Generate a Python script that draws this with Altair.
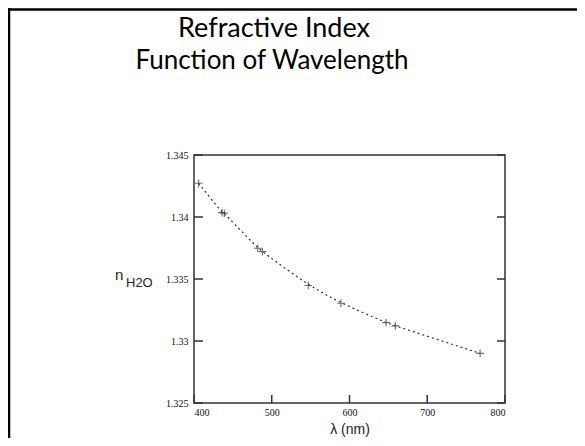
import altair as alt
import pandas as pd

# Data
wavelength = [406, 436, 439, 482, 488, 547, 589, 647, 659, 768]
n_h2o = [1.34272, 1.34035, 1.3403, 1.33748, 1.33721, 1.33448, 1.33305, 1.33148, 1.33122, 1.3290]
x_ticks = [400, 500, 600, 700, 800]
y_ticks = [1.325, 1.33, 1.335, 1.34, 1.345]
title_lines = ["Refractive Index", "Function of Wavelength"]

W, H = 311, 248
df = pd.DataFrame({"wl": wavelength, "n": n_h2o})
xt = pd.DataFrame({"v": x_ticks})
yt = pd.DataFrame({"v": y_ticks})
one = pd.DataFrame({"a": [0]})

xs = alt.Scale(domain=[400, 800], nice=False, zero=False)
ys = alt.Scale(domain=[1.325, 1.345], nice=False, zero=False)
ink = "#333333"

line = alt.Chart(df).mark_line(
    color=ink, strokeWidth=1.2, strokeDash=[2, 3], interpolate="basis"
).encode(
    x=alt.X("wl:Q", scale=xs,
            axis=alt.Axis(values=x_ticks, title=None, ticks=False, domain=False, grid=False,
                          labelFont="Liberation Serif", labelFontSize=10, labelColor="#111",
                          labelPadding=4, format="d")),
    y=alt.Y("n:Q", scale=ys,
            axis=alt.Axis(values=y_ticks, title=None, ticks=False, domain=False, grid=False,
                          labelFont="Liberation Serif", labelFontSize=10, labelColor="#111",
                          labelPadding=6, format=".3~f")),
)

cross = "M-1,0L1,0M0,-1L0,1"
pts = alt.Chart(df).mark_point(shape=cross, size=60, color=ink, strokeWidth=1.1, filled=False).encode(
    x=alt.X("wl:Q", scale=xs), y=alt.Y("n:Q", scale=ys)
)

ytick_l = alt.Chart(yt).mark_rule(color=ink, strokeWidth=1.5).encode(
    y=alt.Y("v:Q", scale=ys), x=alt.value(0), x2=alt.value(9))
ytick_r = alt.Chart(yt).mark_rule(color=ink, strokeWidth=1.5).encode(
    y=alt.Y("v:Q", scale=ys), x=alt.value(W), x2=alt.value(W - 8))
xtick_b = alt.Chart(xt).mark_rule(color=ink, strokeWidth=1.5).encode(
    x=alt.X("v:Q", scale=xs), y=alt.value(H), y2=alt.value(H - 8))

t1 = alt.Chart(one).mark_text(text=title_lines[0], font="Lato", fontSize=27, color="black",
                              align="center", baseline="alphabetic").encode(
    x=alt.value(80), y=alt.value(-118))
t2 = alt.Chart(one).mark_text(text=title_lines[1], font="Lato", fontSize=26, color="black",
                              align="center", baseline="alphabetic").encode(
    x=alt.value(78), y=alt.value(-86))

yl1 = alt.Chart(one).mark_text(text="n", font="Liberation Sans", fontSize=15, color="#222",
                               align="left", baseline="alphabetic").encode(
    x=alt.value(-79), y=alt.value(125))
yl2 = alt.Chart(one).mark_text(text="H2O", font="Liberation Sans", fontSize=13, color="#222",
                               align="left", baseline="alphabetic").encode(
    x=alt.value(-68), y=alt.value(132))
xl = alt.Chart(one).mark_text(text="λ (nm)", font="Liberation Sans", fontSize=14, color="#222",
                              align="center", baseline="alphabetic").encode(
    x=alt.value(156), y=alt.value(279))

border_top = alt.Chart(one).mark_rule(color="black", strokeWidth=2.5).encode(
    x=alt.value(-186), x2=alt.value(383), y=alt.value(-145.5))
border_left = alt.Chart(one).mark_rule(color="black", strokeWidth=2.5).encode(
    x=alt.value(-185), y=alt.value(-147), y2=alt.value(283))

chart = alt.layer(
    line, pts, ytick_l, ytick_r, xtick_b, t1, t2, yl1, yl2, xl, border_top, border_left
).properties(
    width=W, height=H,
    autosize=alt.AutoSizeParams(type="none"),
    padding={"left": 186, "top": 147, "right": 72, "bottom": 35},
    background="white",
).configure_view(stroke=ink, strokeWidth=1.5)

chart.save("out.html", embed_options={"renderer": "svg", "actions": False})
